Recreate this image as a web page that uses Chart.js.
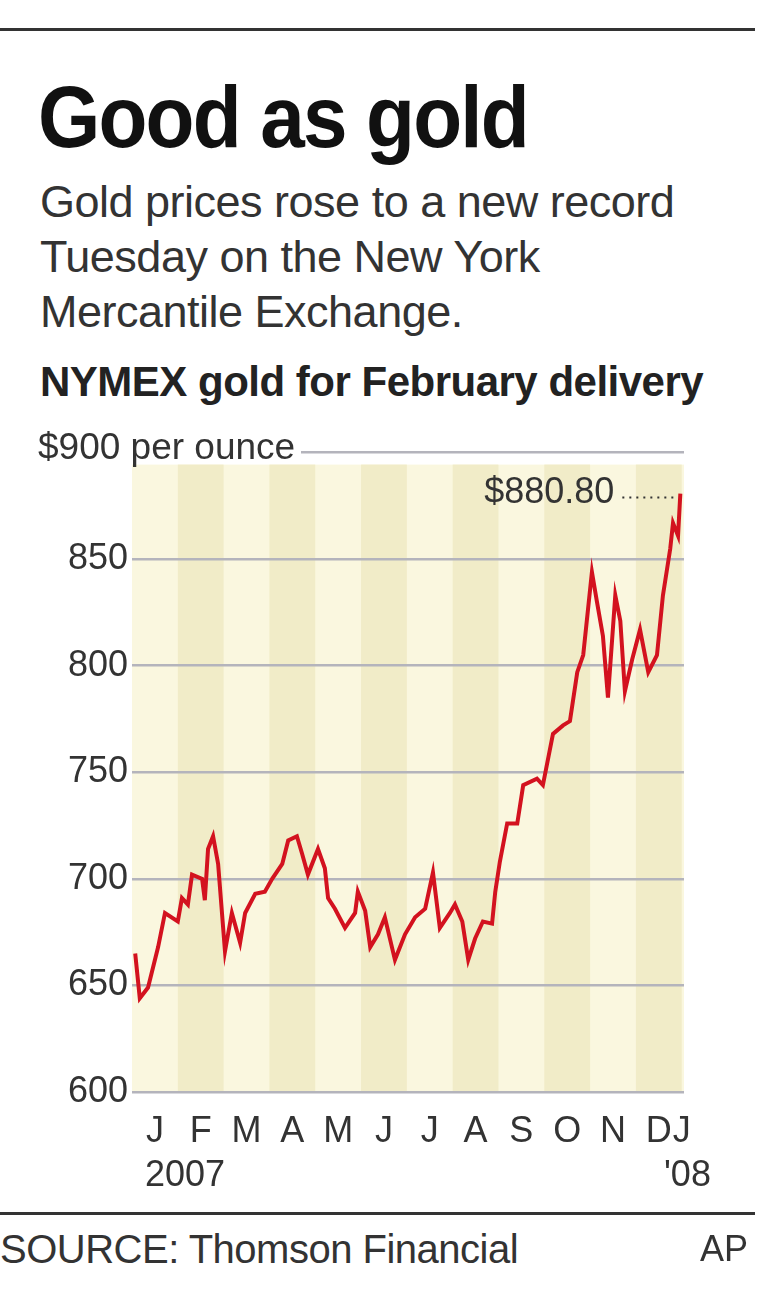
<!DOCTYPE html>
<html>
<head>
<meta charset="utf-8">
<script src="https://cdn.jsdelivr.net/npm/chart.js@4.4.1/dist/chart.umd.min.js"></script>
<style>
  body { margin: 0; background: #fff; width: 760px; height: 1302px; position: relative; overflow: hidden; font-family: "Liberation Sans", Arial, sans-serif; color: #222; }
  .abs { position: absolute; white-space: nowrap; }
  #wrap { position: absolute; left: 0; top: 427px; width: 760px; height: 773px; }
</style>
</head>
<body>
<div class="abs" style="left:0;top:28px;width:755px;height:3px;background:#333"></div>
<div class="abs" style="left:38px;top:66px;font-weight:bold;font-size:88px;letter-spacing:-2px;color:#111;transform:scaleX(0.91);transform-origin:left top">Good as gold</div>
<div class="abs" style="left:40px;top:174px;font-size:45px;line-height:55px;color:#333;letter-spacing:-0.5px">Gold prices rose to a new record<br>Tuesday on the New York<br>Mercantile Exchange.</div>
<div class="abs" style="left:40px;top:358px;font-size:42px;font-weight:bold;color:#222;letter-spacing:-0.5px">NYMEX gold for February delivery</div>
<div id="wrap"><canvas id="c"></canvas></div>
<div class="abs" style="left:38px;top:432px;font-size:37px;line-height:30px;color:#333;background:#fff;padding-right:6px">$900 per ounce</div>
<div class="abs" style="left:145px;top:1153px;font-size:36px;color:#333">2007</div>
<div class="abs" style="left:664px;top:1153px;font-size:36px;color:#333">'08</div>
<div class="abs" style="left:0;top:1212px;width:755px;height:3px;background:#333"></div>
<div class="abs" style="left:0;top:1227px;font-size:40px;color:#333;letter-spacing:-0.5px">SOURCE: Thomson Financial</div>
<div class="abs" style="left:700px;top:1228px;font-size:36px;color:#333">AP</div>
<script>
// month position (0 = start of Jan 2007) and price in $ per ounce
const months = [0.07,0.17,0.35,0.57,0.72,1.00,1.09,1.22,1.31,1.53,1.59,1.66,1.77,1.88,2.03,2.18,2.36,2.47,2.69,2.90,
  3.06,3.28,3.41,3.60,3.71,3.84,4.06,4.21,4.28,4.43,4.65,4.87,4.93,5.09,5.20,5.37,5.52,5.74,5.96,6.18,
  6.40,6.57,6.72,6.94,7.05,7.21,7.34,7.49,7.66,7.86,7.93,8.03,8.19,8.41,8.54,8.84,8.97,9.19,9.41,9.56,
  9.72,9.85,10.04,10.15,10.28,10.39,10.55,10.66,10.76,10.92,11.09,11.27,11.46,11.59,11.75,11.81,11.92,11.97];
const prices = [665,644,649,668,684,680,691,688,702,700,690,714,720,707,666,684,670,684,693,694,
  700,707,718,720,712,702,714,705,691,686,677,684,694,685,668,674,682,662,674,682,
  686,703,677,684,688,680,662,672,680,679,694,708,726,726,744,747,744,768,772,774,
  797,805,844,830,814,785,833,821,788,803,817,797,805,833,855,867,861,880.8];
const monthLabels = ["J","F","M","A","M","J","J","A","S","O","N","D","J"];
const monthTicks = [0.5,1.5,2.5,3.5,4.5,5.5,6.5,7.5,8.5,9.5,10.5,11.5,12.0];
const yTicks = [600,650,700,750,800,850,900];
const lastLabel = "$880.80";

const bands = {
  id: "bands",
  beforeDraw(chart) {
    const { ctx, chartArea: a, scales: { x } } = chart;
    ctx.save();
    ctx.fillStyle = "#faf7df";
    ctx.fillRect(a.left, a.top + 12, a.right - a.left, a.bottom - a.top - 12);
    ctx.fillStyle = "#f1ecc8";
    for (let m = 1; m <= 12; m += 2) {
      const l = x.getPixelForValue(m), r = Math.min(x.getPixelForValue(m + 1), a.right);
      ctx.fillRect(l, a.top + 12, r - l, a.bottom - a.top - 12);
    }
    ctx.restore();
  },
  afterDatasetsDraw(chart) {
    const { ctx, scales: { x, y } } = chart;
    const px = x.getPixelForValue(months[months.length - 1]);
    const py = y.getPixelForValue(prices[prices.length - 1]);
    ctx.save();
    ctx.font = "36px 'Liberation Sans', Arial";
    ctx.fillStyle = "#333";
    ctx.textAlign = "right";
    ctx.textBaseline = "middle";
    ctx.fillText(lastLabel, px - 66, py);
    ctx.strokeStyle = "#333";
    ctx.lineWidth = 2;
    ctx.setLineDash([2, 5]);
    ctx.beginPath();
    ctx.moveTo(px - 58, py + 4);
    ctx.lineTo(px - 4, py + 4);
    ctx.stroke();
    ctx.restore();
  }
};

new Chart(document.getElementById("c"), {
  type: "line",
  data: {
    datasets: [{
      data: months.map((m, i) => ({ x: m, y: prices[i] })),
      borderColor: "#d3121f",
      borderWidth: 4,
      pointRadius: 0,
      tension: 0,
      fill: false
    }]
  },
  options: {
    responsive: true,
    maintainAspectRatio: false,
    animation: false,
    layout: { padding: { top: 0, right: 76, left: 0, bottom: 0 } },
    plugins: { legend: { display: false }, tooltip: { enabled: false } },
    scales: {
      x: {
        type: "linear", min: 0, max: 12.05,
        afterBuildTicks(s) { s.ticks = monthTicks.map(v => ({ value: v })); },
        afterFit(s) { s.height = 108; },
        grid: { display: false },
        border: { display: false },
        ticks: {
          autoSkip: false, maxRotation: 0, padding: 10,
          color: "#333", font: { size: 36, family: "'Liberation Sans', Arial" },
          callback: (v, i) => monthLabels[i]
        }
      },
      y: {
        min: 600, max: 900,
        afterBuildTicks(s) { s.ticks = yTicks.map(v => ({ value: v })); },
        afterFit(s) { s.width = 132; },
        grid: { color: "#b4b4bc", lineWidth: 2.5, drawTicks: false },
        border: { display: false },
        ticks: {
          padding: 4, color: "#333", font: { size: 36, family: "'Liberation Sans', Arial" },
          callback: v => v === 900 ? "" : v
        }
      }
    }
  },
  plugins: [bands]
});
</script>
</body>
</html>
